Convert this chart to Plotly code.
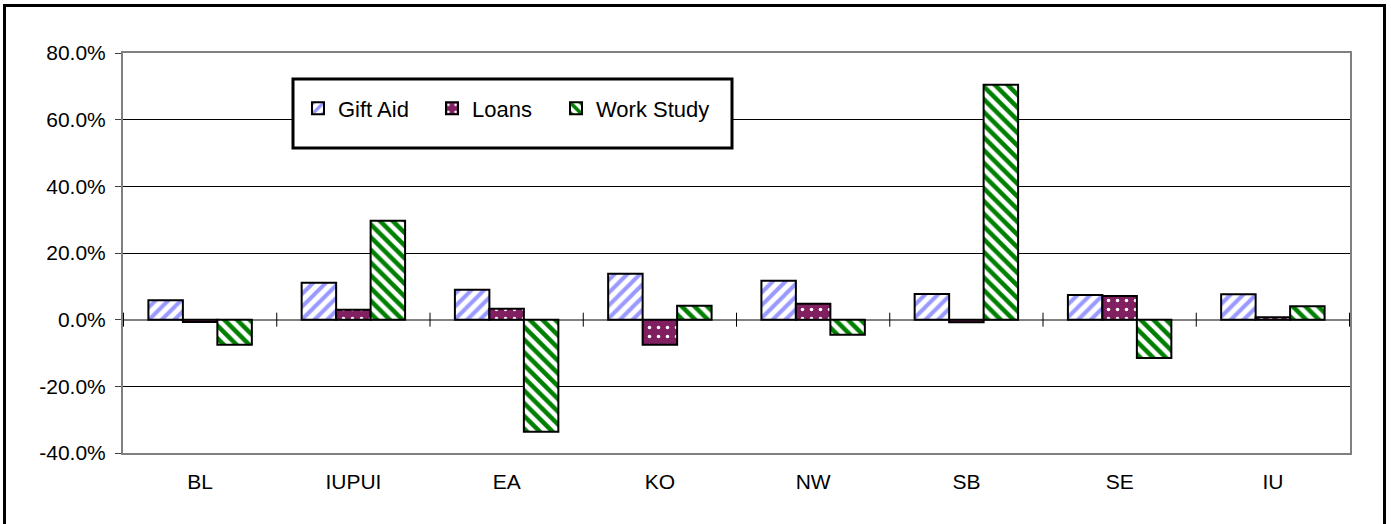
import plotly.graph_objects as go

categories = ["BL", "IUPUI", "EA", "KO", "NW", "SB", "SE", "IU"]
gift_aid = [5.8, 11.1, 9.0, 13.8, 11.7, 7.7, 7.4, 7.6]
loans = [-0.7, 3.0, 3.3, -7.5, 4.8, -0.8, 7.1, 0.7]
work_study = [-7.5, 29.7, -33.6, 4.2, -4.5, 70.5, -11.5, 4.0]
y_ticks = [-40, -20, 0, 20, 40, 60, 80]
y_tick_labels = [f"{v:.1f}%" for v in y_ticks]

FONT = "Liberation Sans, Arial, sans-serif"
W, H = 1391, 524
ML, MR, MT, MB = 123, 41, 53, 71
pw = W - ML - MR
ph = H - MT - MB


def px_x(p):
    return (p - ML) / pw


def px_y(p):
    return (H - MB - p) / ph


fig = go.Figure()
fig.add_trace(go.Bar(
    name="Gift Aid", x=categories, y=gift_aid, legend="legend",
    marker=dict(color="white", line=dict(color="black", width=2),
                pattern=dict(shape="/", fgcolor="#9999FF", fgopacity=1, size=9,
                             solidity=0.45, fillmode="overlay")),
))
fig.add_trace(go.Bar(
    name="Loans", x=categories, y=loans, legend="legend2",
    marker=dict(color="#802060", line=dict(color="black", width=2),
                pattern=dict(shape=".", fgcolor="white", fgopacity=1, size=9,
                             solidity=0.12, fillmode="overlay")),
))
fig.add_trace(go.Bar(
    name="Work Study", x=categories, y=work_study, legend="legend3",
    marker=dict(color="white", line=dict(color="black", width=2),
                pattern=dict(shape="\\", fgcolor="#008000", fgopacity=1, size=9,
                             solidity=0.5, fillmode="overlay")),
))

shapes = []
# category separator ticks on the zero line
for i in range(len(categories) + 1):
    shapes.append(dict(type="line", xref="x", yref="y", x0=i - 0.5, x1=i - 0.5,
                       y0=-2.1, y1=2.1, line=dict(color="black", width=1)))
# legend box
shapes.append(dict(type="rect", xref="paper", yref="paper",
                   x0=px_x(293), x1=px_x(732), y0=px_y(148), y1=px_y(79),
                   fillcolor="white", line=dict(color="black", width=3), layer="above"))
# outer chart frame
shapes.append(dict(type="rect", xref="paper", yref="paper",
                   x0=px_x(4.5), x1=px_x(1384.5), y0=px_y(535), y1=px_y(5.5),
                   line=dict(color="black", width=3), layer="above"))

leg_common = dict(orientation="h", xanchor="left", y=px_y(108.5), yanchor="middle",
                  bgcolor="rgba(0,0,0,0)", font=dict(size=22, family=FONT),
                  itemwidth=30)

fig.update_layout(
    width=W, height=H,
    margin=dict(l=ML, r=MR, t=MT, b=MB),
    paper_bgcolor="white", plot_bgcolor="white",
    font=dict(family=FONT, size=21, color="black"),
    barmode="group", bargap=0.325, bargroupgap=0,
    showlegend=True,
    legend=dict(x=px_x(298), **leg_common),
    legend2=dict(x=px_x(432), **leg_common),
    legend3=dict(x=px_x(556), **leg_common),
    shapes=shapes,
)
fig.update_xaxes(showline=True, linecolor="#808080", linewidth=2, mirror=True,
                 ticks="outside", ticklen=9, tickcolor="rgba(0,0,0,0)",
                 showgrid=False, tickfont=dict(size=21))
fig.update_yaxes(range=[-40, 80], tickvals=y_ticks, ticktext=y_tick_labels,
                 showline=True, linecolor="#808080", linewidth=2, mirror=True,
                 ticks="outside", ticklen=6, tickcolor="#404040",
                 ticklabelstandoff=5,
                 showgrid=True, gridcolor="black", gridwidth=1,
                 zeroline=True, zerolinecolor="#808080", zerolinewidth=2,
                 tickfont=dict(size=21))

fig.write_html("out.html", config={"displayModeBar": False},
               post_script="document.body.style.margin='0px';")
